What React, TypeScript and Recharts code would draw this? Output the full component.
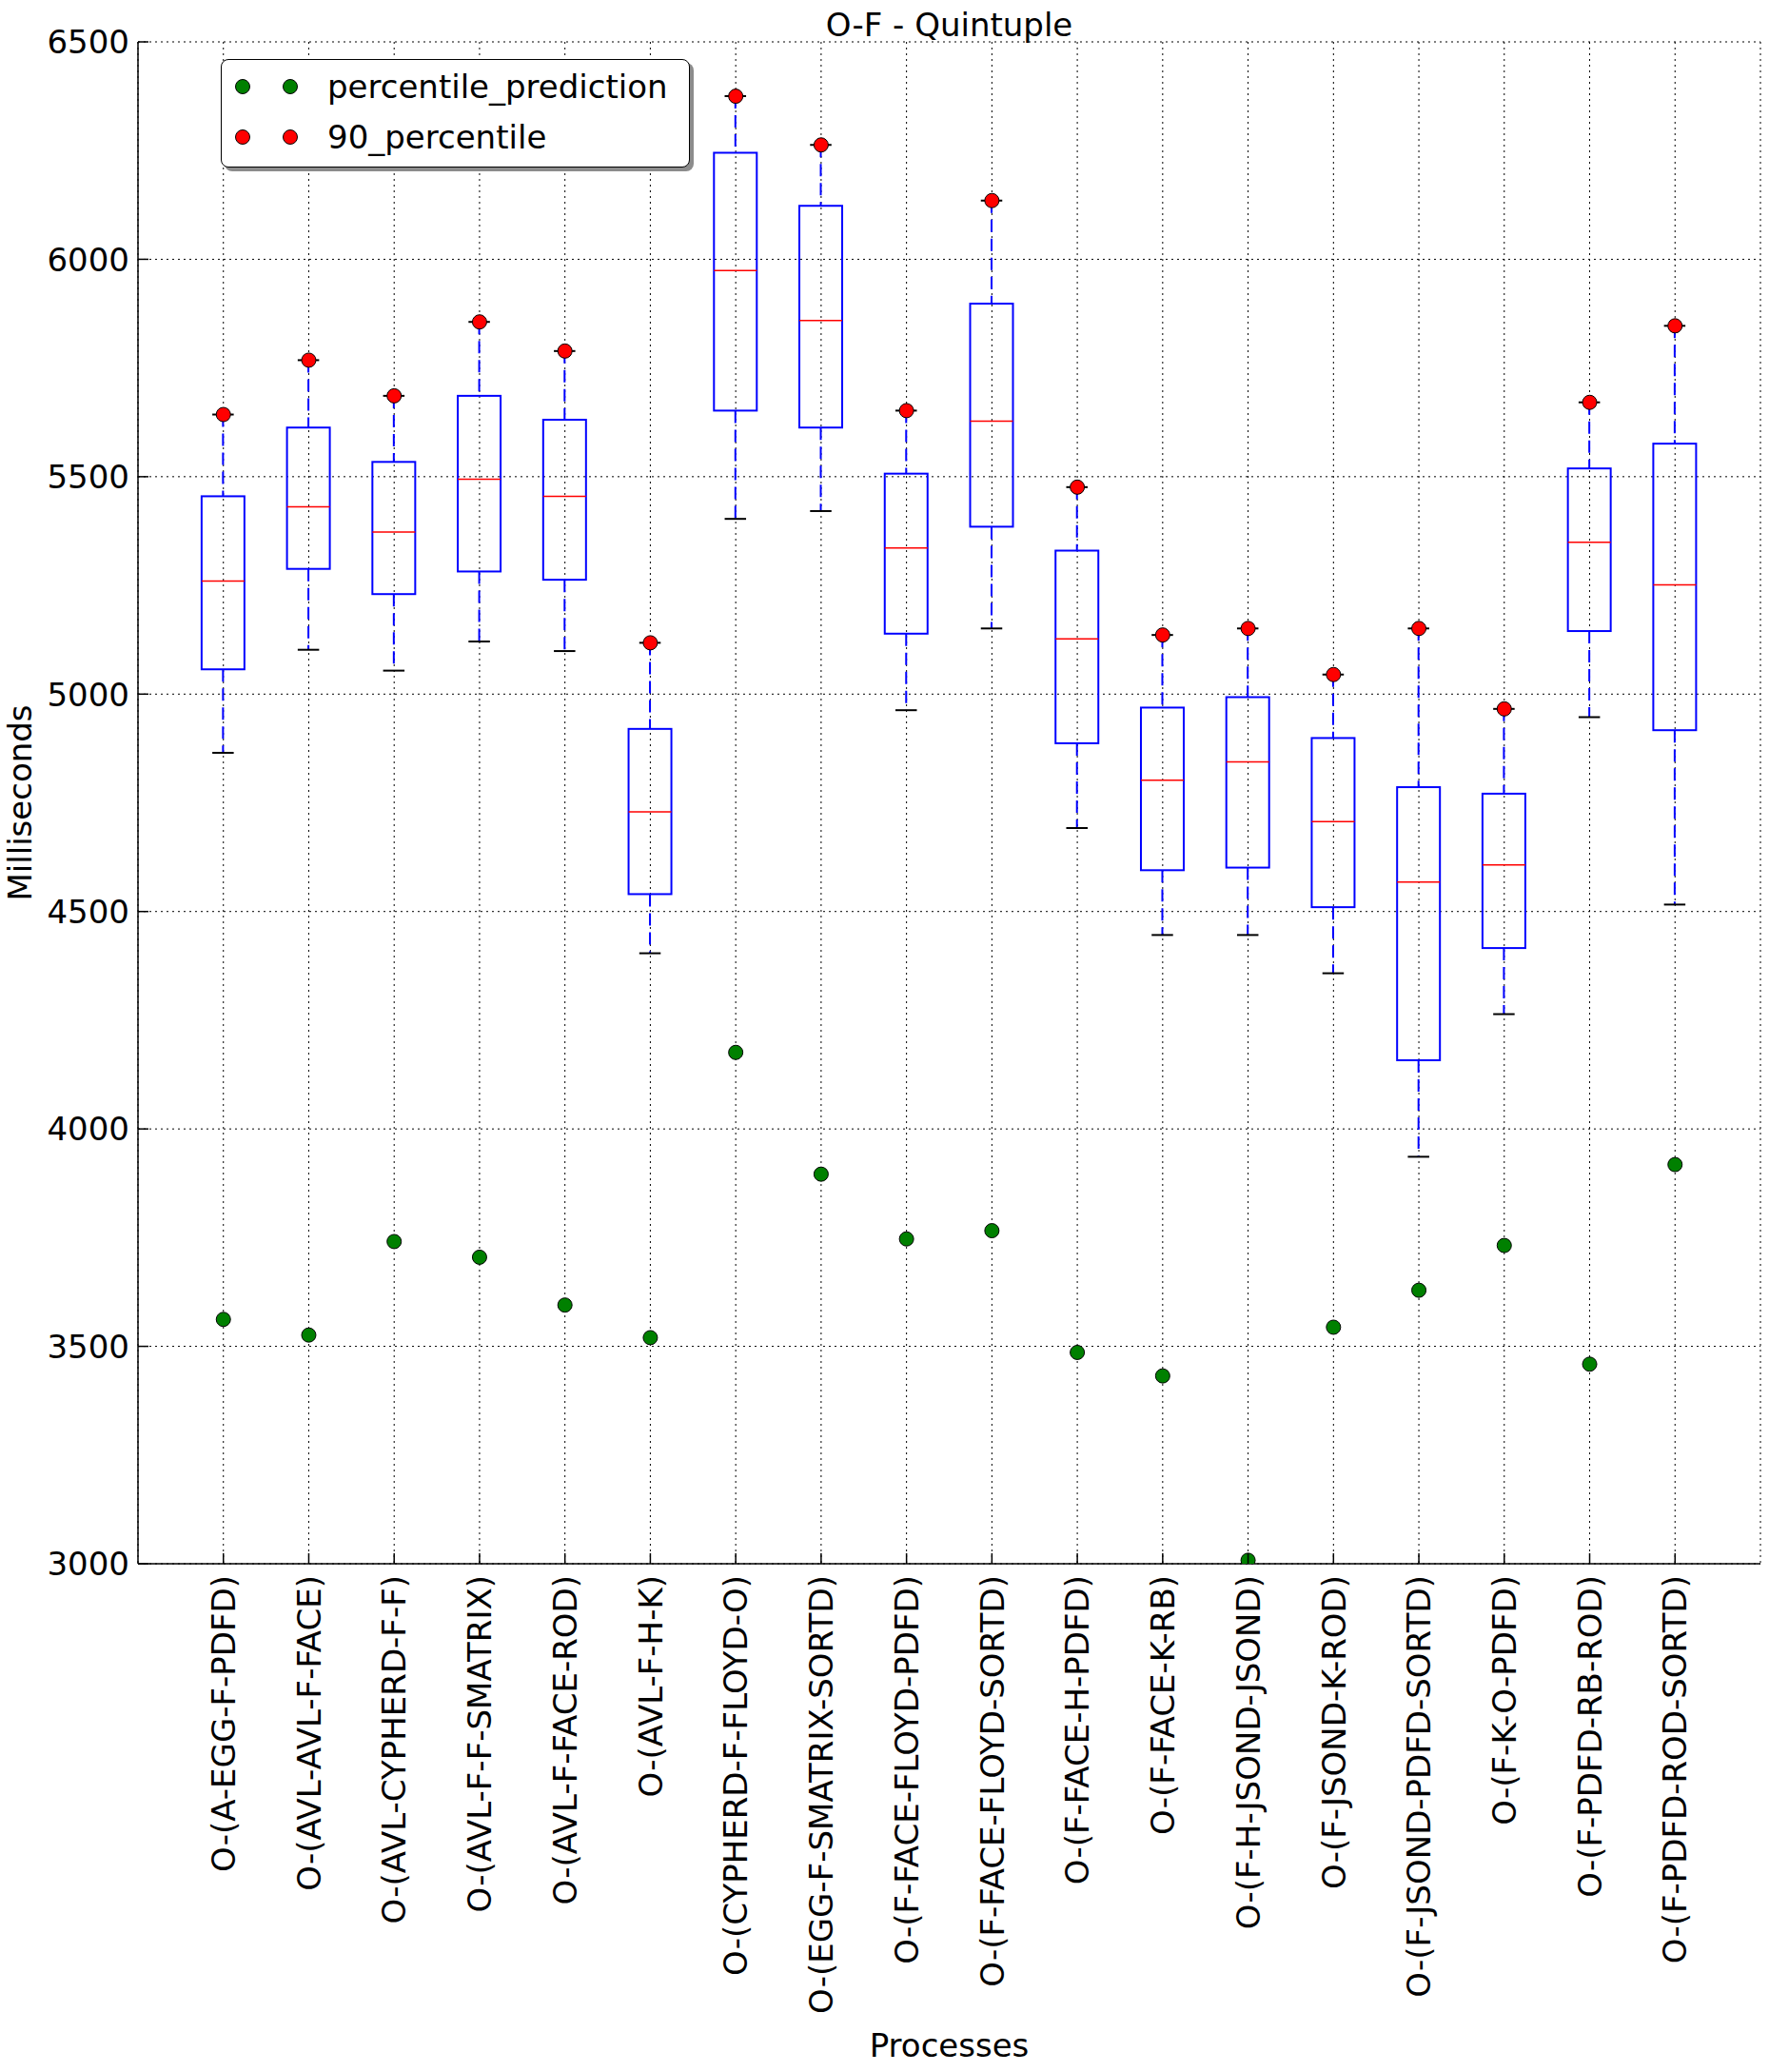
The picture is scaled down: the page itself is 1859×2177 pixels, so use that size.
import React from "react";
import { ComposedChart, Bar, Scatter, XAxis, YAxis, CartesianGrid, Legend, Label } from "recharts";

const FONT = "'DejaVu Sans', sans-serif";

const processes = [
  "O-(A-EGG-F-PDFD)",
  "O-(AVL-AVL-F-FACE)",
  "O-(AVL-CYPHERD-F-F)",
  "O-(AVL-F-F-SMATRIX)",
  "O-(AVL-F-FACE-ROD)",
  "O-(AVL-F-H-K)",
  "O-(CYPHERD-F-FLOYD-O)",
  "O-(EGG-F-SMATRIX-SORTD)",
  "O-(F-FACE-FLOYD-PDFD)",
  "O-(F-FACE-FLOYD-SORTD)",
  "O-(F-FACE-H-PDFD)",
  "O-(F-FACE-K-RB)",
  "O-(F-H-JSOND-JSOND)",
  "O-(F-JSOND-K-ROD)",
  "O-(F-JSOND-PDFD-SORTD)",
  "O-(F-K-O-PDFD)",
  "O-(F-PDFD-RB-ROD)",
  "O-(F-PDFD-ROD-SORTD)",
];

// box plot stats per process (ms)
const percentile90 = [5643, 5768, 5686, 5856, 5789, 5118, 6375, 6263, 5652, 6135, 5476, 5136, 5151, 5045, 5151, 4966, 5671, 5847];
const upperQuartile = [5455, 5613, 5534, 5686, 5631, 4920, 6245, 6123, 5507, 5898, 5330, 4969, 4993, 4899, 4786, 4771, 5519, 5576];
const medians = [5260, 5431, 5373, 5494, 5455, 4729, 5974, 5859, 5336, 5628, 5127, 4802, 4844, 4707, 4568, 4607, 5349, 5251];
const lowerQuartile = [5057, 5288, 5230, 5282, 5263, 4540, 5652, 5613, 5139, 5385, 4887, 4595, 4601, 4510, 4158, 4416, 5145, 4917];
const lowerWhisker = [4865, 5102, 5054, 5121, 5099, 4404, 5403, 5421, 4963, 5151, 4692, 4446, 4446, 4358, 3936, 4264, 4947, 4516];
const percentilePrediction = [3562, 3526, 3741, 3705, 3595, 3520, 4176, 3896, 3747, 3766, 3486, 3432, 3008, 3544, 3629, 3732, 3459, 3918];

const yTicks = [3000, 3500, 4000, 4500, 5000, 5500, 6000, 6500];
const xTicks = processes.map((_, i) => i + 1);

const legendItems = [
  { label: "percentile_prediction", color: "#008000" },
  { label: "90_percentile", color: "#ff0000" },
];

const rows = processes.map((name, i) => ({
  name,
  pos: i + 1,
  p90: percentile90[i],
  q3: upperQuartile[i],
  median: medians[i],
  q1: lowerQuartile[i],
  low: lowerWhisker[i],
  prediction: percentilePrediction[i],
  span: [lowerWhisker[i], percentile90[i]],
}));

const TICK_LEN = 11;

function BoxShape(props: any) {
  const { x, y, width, height, payload } = props;
  if (payload == null) return null;
  const top = Math.min(y, y + height);
  const h = Math.abs(height);
  const cx = x + width / 2;
  const ppv = h / (payload.p90 - payload.low);
  const yOf = (v: number) => top + (payload.p90 - v) * ppv;
  const half = width / 2;
  const cap = width / 4;
  return (
    <g>
      <line x1={cx} x2={cx} y1={yOf(payload.p90)} y2={yOf(payload.q3)} stroke="#0000ff" strokeWidth={2} strokeDasharray="13 7" />
      <line x1={cx} x2={cx} y1={yOf(payload.q1)} y2={yOf(payload.low)} stroke="#0000ff" strokeWidth={2} strokeDasharray="13 7" />
      <line x1={cx - cap} x2={cx + cap} y1={yOf(payload.p90)} y2={yOf(payload.p90)} stroke="#000" strokeWidth={2} />
      <line x1={cx - cap} x2={cx + cap} y1={yOf(payload.low)} y2={yOf(payload.low)} stroke="#000" strokeWidth={2} />
      <rect x={cx - half} y={yOf(payload.q3)} width={width} height={yOf(payload.q1) - yOf(payload.q3)} fill="none" stroke="#0000ff" strokeWidth={2} />
      <line x1={cx - half} x2={cx + half} y1={yOf(payload.median)} y2={yOf(payload.median)} stroke="#ff0000" strokeWidth={1.5} />
    </g>
  );
}

const dotShape = (color: string) => (props: any) =>
  <circle cx={props.cx} cy={props.cy} r={7.5} fill={color} stroke="#000" strokeWidth={1} />;

function BottomTick(props: any) {
  const { x, y, payload } = props;
  return (
    <g>
      <line x1={x} x2={x} y1={y - 12} y2={y - 12 - TICK_LEN} stroke="#000" strokeWidth={1.5} />
      <text x={x} y={y} dy="0.36em" transform={`rotate(-90, ${x}, ${y})`} textAnchor="end"
        fontFamily={FONT} fontSize={34} fill="#000">{processes[payload.value - 1]}</text>
    </g>
  );
}

function TopTick(props: any) {
  const { x, y } = props;
  return <line x1={x} x2={x} y1={y} y2={y + TICK_LEN} stroke="#000" strokeWidth={1.5} />;
}

function LeftTick(props: any) {
  const { x, y, payload } = props;
  return (
    <g>
      <line x1={x + 9} x2={x + 9 + TICK_LEN} y1={y} y2={y} stroke="#000" strokeWidth={1.5} />
      <text x={x} y={y} dy="0.36em" textAnchor="end" fontFamily={FONT} fontSize={34} fill="#000">{payload.value}</text>
    </g>
  );
}

function RightTick(props: any) {
  const { x, y } = props;
  return <line x1={x} x2={x - TICK_LEN} y1={y} y2={y} stroke="#000" strokeWidth={1.5} />;
}

function XTitle(props: any) {
  const vb = props.viewBox;
  return (
    <text x={vb.x + vb.width / 2} y={vb.y + 518} textAnchor="middle" fontFamily={FONT} fontSize={34} fill="#000">
      Processes
    </text>
  );
}

function YTitle(props: any) {
  const vb = props.viewBox;
  const x = vb.x + 28;
  const y = vb.y + vb.height / 2;
  return (
    <text x={x} y={y} transform={`rotate(-90, ${x}, ${y})`} textAnchor="middle" fontFamily={FONT} fontSize={34} fill="#000">
      Milliseconds
    </text>
  );
}

function LegendBox() {
  return (
    <div style={{
      position: "relative", width: 493, height: 114, boxSizing: "border-box",
      border: "1.5px solid #000", borderRadius: 8, background: "#fff",
      boxShadow: "4px 4px 0 #8c8c8c", fontFamily: FONT, fontSize: 34, color: "#000",
    }}>
      {legendItems.map((it, i) => (
        <div key={it.label} style={{ position: "absolute", left: 0, top: 7 + i * 53, height: 42, display: "flex", alignItems: "center", whiteSpace: "nowrap" }}>
          <svg width={111} height={42} style={{ display: "block" }}>
            <circle cx={22} cy={21} r={7.5} fill={it.color} stroke="#000" strokeWidth={1} />
            <circle cx={72} cy={21} r={7.5} fill={it.color} stroke="#000" strokeWidth={1} />
          </svg>
          <span style={{ lineHeight: "42px" }}>{it.label}</span>
        </div>
      ))}
    </div>
  );
}

export default function App() {
  return (
    <div style={{ position: "absolute", left: 0, top: 0, width: 1859, height: 2177, background: "#fff" }}>
      <ComposedChart width={1859} height={2177} data={rows} margin={{ top: 44, right: 9, bottom: 34, left: 5 }}>
        <CartesianGrid stroke="#000" strokeWidth={1} strokeDasharray="2 4" />
        <XAxis dataKey="pos" type="number" domain={[0, 19]} ticks={xTicks} interval={0} height={500}
          tickSize={0} tickMargin={12} tick={<BottomTick />} axisLine={{ stroke: "#000", strokeWidth: 1.5 }}
          label={<Label content={XTitle} />} />
        <XAxis xAxisId="top" orientation="top" dataKey="pos" type="number" domain={[0, 19]} ticks={xTicks} interval={0}
          height={0} tickSize={0} tickMargin={0} tick={<TopTick />} axisLine={{ stroke: "#000", strokeWidth: 1.5 }} />
        <YAxis type="number" domain={[3000, 6500]} ticks={yTicks} interval={0} width={140} allowDataOverflow
          tickSize={0} tickMargin={9} tick={<LeftTick />} axisLine={{ stroke: "#000", strokeWidth: 1.5 }}
          label={<Label content={YTitle} />} />
        <YAxis yAxisId="right" orientation="right" type="number" domain={[3000, 6500]} ticks={yTicks} interval={0}
          width={0} tickSize={0} tickMargin={0} tick={<RightTick />} axisLine={{ stroke: "#000", strokeWidth: 1.5 }} />
        <Bar dataKey="span" barSize={45} shape={<BoxShape />} legendType="none" isAnimationActive={false} />
        <Scatter name="90_percentile" dataKey="p90" fill="#ff0000" shape={dotShape("#ff0000")} isAnimationActive={false} />
        <Scatter name="percentile_prediction" dataKey="prediction" fill="#008000" shape={dotShape("#008000")} isAnimationActive={false} />
        <Legend layout="vertical" align="center" verticalAlign="middle" content={<LegendBox />}
          wrapperStyle={{ left: 232, top: 62, width: 493, height: 114 }} />
      </ComposedChart>
      <div style={{
        position: "absolute", left: 145, top: 6, width: 1705, textAlign: "center",
        fontFamily: FONT, fontSize: 34, lineHeight: "40px", color: "#000", pointerEvents: "none",
      }}>
        O-F - Quintuple
      </div>
    </div>
  );
}
